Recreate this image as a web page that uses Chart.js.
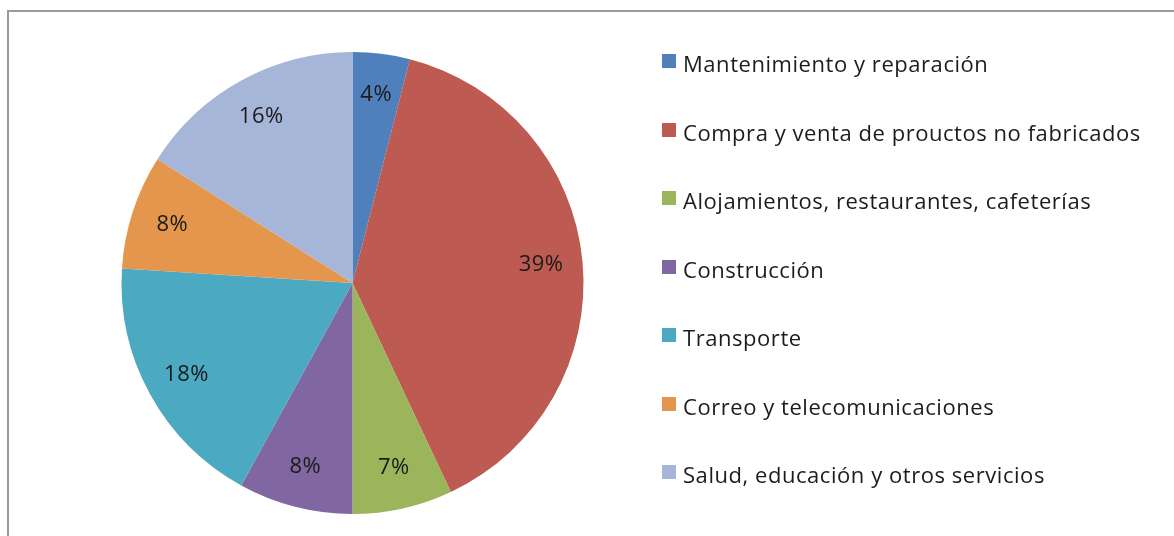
<!DOCTYPE html>
<html>
<head>
<meta charset="utf-8">
<script src="https://cdn.jsdelivr.net/npm/chart.js@4/dist/chart.umd.min.js"></script>
<style>
  html, body { margin: 0; padding: 0; background: #fff; overflow: hidden; }
  #wrap { position: relative; width: 1174px; height: 536px; }
  #frame {
    position: absolute; left: 7px; top: 10px; width: 1200px; height: 560px;
    border-left: 2px solid #9a9a9a; border-top: 2px solid #9a9a9a;
  }
  #pie { position: absolute; left: 0; top: 0; }
  .leg { position: absolute; left: 662px; height: 30px; display: flex; align-items: center;
         font-family: "Open Sans", Lato, sans-serif; font-size: 22px; letter-spacing: 0.55px;
         color: #1c1c1c; white-space: nowrap; }
  .leg i { display: inline-block; width: 14px; height: 14px; margin-right: 7px; margin-top: -4px; }
</style>
</head>
<body>
<div id="wrap">
  <div id="frame"></div>
  <canvas id="pie" width="1174" height="536"></canvas>
  <div id="legend"></div>
</div>
<script>
  const categories = [
    "Mantenimiento y reparación",
    "Compra y venta de prouctos no fabricados",
    "Alojamientos, restaurantes, cafeterías",
    "Construcción",
    "Transporte",
    "Correo y telecomunicaciones",
    "Salud, educación y otros servicios"
  ];
  const shares = [4, 39, 7, 8, 18, 8, 16];
  const colors = ["#4f80bb", "#bd5a51", "#9bb55b", "#8167a1", "#4ba9c2", "#e5964d", "#a5b6d9"];

  // percentage labels inside each slice
  const sliceLabels = {
    id: "sliceLabels",
    afterDatasetsDraw(chart) {
      const ctx = chart.ctx;
      const data = chart.data.datasets[0].data;
      const total = data.reduce((a, b) => a + b, 0);
      ctx.save();
      ctx.font = "22px 'Open Sans', Lato, sans-serif";
      ctx.letterSpacing = "0.5px";
      ctx.fillStyle = "#1a1a1a";
      ctx.textAlign = "center";
      ctx.textBaseline = "middle";
      chart.getDatasetMeta(0).data.forEach((arc, i) => {
        const mid = (arc.startAngle + arc.endAngle) / 2;
        const r = arc.outerRadius * 0.82;
        const x = arc.x + Math.cos(mid) * r;
        const y = arc.y + Math.sin(mid) * r;
        ctx.fillText(Math.round(data[i] / total * 100) + "%", x, y);
      });
      ctx.restore();
    }
  };

  const chart = new Chart(document.getElementById("pie").getContext("2d"), {
    type: "pie",
    data: {
      labels: categories,
      datasets: [{ data: shares, backgroundColor: colors, borderWidth: 0 }]
    },
    options: {
      responsive: false,
      animation: false,
      layout: { padding: { left: 121, right: 590, top: 52, bottom: 22 } },
      plugins: { legend: { display: false }, tooltip: { enabled: false } }
    },
    plugins: [sliceLabels]
  });

  const legend = document.getElementById("legend");
  categories.forEach((name, i) => {
    const row = document.createElement("div");
    row.className = "leg";
    row.style.top = (63 + i * 68.5 - 15) + "px";
    row.innerHTML = '<i style="background:' + colors[i] + '"></i><span></span>';
    row.querySelector("span").textContent = name;
    legend.appendChild(row);
  });
</script>
</body>
</html>
